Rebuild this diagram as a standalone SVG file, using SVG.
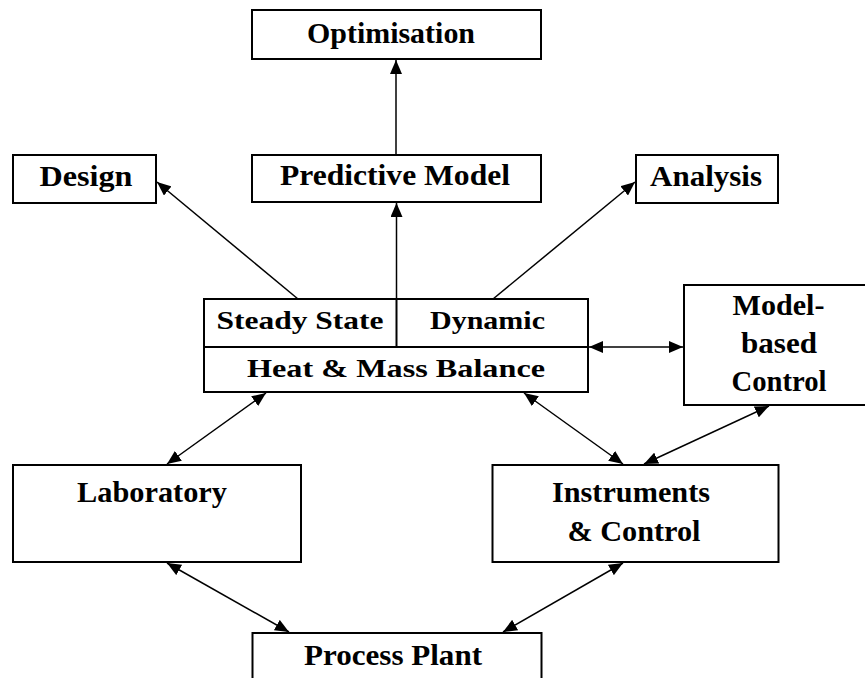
<svg xmlns="http://www.w3.org/2000/svg" width="865" height="678" viewBox="0 0 865 678">
<defs>
<style>
.box{fill:#fff;stroke:#000;stroke-width:2}
.t{font-family:"Liberation Serif","Times New Roman",serif;font-weight:bold;font-size:29px;fill:#000;text-anchor:middle}
.s{font-size:26px}
.c{stroke:#000;stroke-width:1.5;fill:none}
</style>
<marker id="ah" viewBox="0 0 14 12" refX="14" refY="6" markerWidth="14" markerHeight="12" markerUnits="userSpaceOnUse" orient="auto-start-reverse">
<path d="M0,0 L14,6 L0,12 z" fill="#000"/>
</marker>
</defs>
<rect width="865" height="678" fill="#fff"/>
<g id="optimisation">
<rect class="box" x="252" y="10" width="289" height="49"/>
<text class="t" x="391" y="43" textLength="168" lengthAdjust="spacingAndGlyphs">Optimisation</text>
</g>
<g id="predictive-model">
<rect class="box" x="252" y="155" width="289" height="47"/>
<text class="t" x="395" y="185" textLength="230" lengthAdjust="spacingAndGlyphs">Predictive Model</text>
</g>
<g id="design">
<rect class="box" x="13" y="155" width="143" height="48"/>
<text class="t" x="86" y="186" textLength="93" lengthAdjust="spacingAndGlyphs">Design</text>
</g>
<g id="analysis">
<rect class="box" x="636" y="155" width="142" height="48"/>
<text class="t" x="706" y="186" textLength="112" lengthAdjust="spacingAndGlyphs">Analysis</text>
</g>
<g id="heat-mass-balance">
<rect class="box" x="204" y="299" width="384" height="93"/>
<line x1="204" y1="347" x2="588" y2="347" stroke="#000" stroke-width="2"/>
<line x1="396.5" y1="299" x2="396.5" y2="347" stroke="#000" stroke-width="2"/>
<text class="t s" x="300" y="329" textLength="167" lengthAdjust="spacingAndGlyphs">Steady State</text>
<text class="t s" x="487.5" y="329" textLength="115" lengthAdjust="spacingAndGlyphs">Dynamic</text>
<text class="t s" x="396" y="377" textLength="298" lengthAdjust="spacingAndGlyphs">Heat &amp; Mass Balance</text>
</g>
<g id="model-based-control">
<rect class="box" x="684" y="285" width="200" height="120"/>
<text class="t" x="778.5" y="315" textLength="92" lengthAdjust="spacingAndGlyphs">Model-</text>
<text class="t" x="779" y="353" textLength="76" lengthAdjust="spacingAndGlyphs">based</text>
<text class="t" x="779" y="391" textLength="95" lengthAdjust="spacingAndGlyphs">Control</text>
</g>
<g id="laboratory">
<rect class="box" x="13" y="465" width="288" height="97"/>
<text class="t" x="152" y="502" textLength="150" lengthAdjust="spacingAndGlyphs">Laboratory</text>
</g>
<g id="instruments-control">
<rect class="box" x="492.5" y="465" width="286" height="97"/>
<text class="t" x="631" y="502" textLength="158" lengthAdjust="spacingAndGlyphs">Instruments</text>
<text class="t" x="634" y="541" textLength="133" lengthAdjust="spacingAndGlyphs">&amp; Control</text>
</g>
<g id="process-plant">
<rect class="box" x="252.5" y="633" width="289" height="60"/>
<text class="t" x="393" y="665" textLength="178" lengthAdjust="spacingAndGlyphs">Process Plant</text>
</g>
<g id="connectors">
<line class="c" x1="396" y1="155" x2="396" y2="60" marker-end="url(#ah)"/>
<line class="c" x1="396.5" y1="299" x2="396.5" y2="203" marker-end="url(#ah)"/>
<line class="c" x1="298" y1="299" x2="157" y2="182" marker-end="url(#ah)"/>
<line class="c" x1="493" y1="299" x2="635" y2="182" marker-end="url(#ah)"/>
<line class="c" x1="589" y1="347" x2="683" y2="347" marker-start="url(#ah)" marker-end="url(#ah)"/>
<line class="c" x1="266" y1="393" x2="167" y2="464" marker-start="url(#ah)" marker-end="url(#ah)"/>
<line class="c" x1="524" y1="393" x2="623" y2="464" marker-start="url(#ah)" marker-end="url(#ah)"/>
<line class="c" x1="769" y1="406" x2="644" y2="464" marker-start="url(#ah)" marker-end="url(#ah)"/>
<line class="c" x1="167" y1="563" x2="289" y2="632" marker-start="url(#ah)" marker-end="url(#ah)"/>
<line class="c" x1="623" y1="563" x2="503" y2="632" marker-start="url(#ah)" marker-end="url(#ah)"/>
</g>
</svg>
